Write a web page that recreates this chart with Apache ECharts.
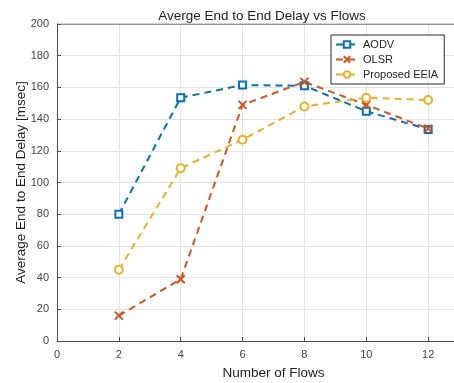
<!DOCTYPE html>
<html><head><meta charset="utf-8">
<script src="https://cdn.jsdelivr.net/npm/echarts@6/dist/echarts.min.js"></script>
<style>html,body{margin:0;padding:0;background:#fff;overflow:hidden;width:454px;height:383px}#c{width:490px;height:383px}</style>
</head><body><div id="c"></div>
<script>
const flows = [2, 4, 6, 8, 10, 12];
const aodv = [80, 153.5, 161.5, 161, 145, 133.5];
const olsr = [16, 39, 149, 163.5, 149, 134];
const eeia = [45, 109, 127, 148, 153.5, 152];
const seriesNames = ['AODV', 'OLSR', 'Proposed EEIA'];
const colors = ['#0072BD', '#D95319', '#EDB120'];

const chart = echarts.init(document.getElementById('c'), null, {renderer: 'canvas'});
const font = 'Helvetica, Arial, "Liberation Sans", sans-serif';
const xPath = 'path://M0,0L10,10M10,0L0,10';
function mk(name, data, color, symbol, size) {
  return {
    name, type: 'line',
    data: flows.map((f, i) => [f, data[i]]),
    symbol, symbolSize: size,
    showAllSymbol: true,
    lineStyle: {color, width: 2, type: [7, 5]},
    itemStyle: {color: symbol === xPath ? color : '#fff', borderColor: color, borderWidth: 2},
    emphasis: {disabled: true},
    z: 3
  };
}
chart.setOption({
  animation: false,
  textStyle: {fontFamily: font},
  title: {
    text: 'Averge End to End Delay vs Flows',
    left: 257, top: 4, textAlign: 'center',
    textStyle: {fontSize: 13.5, fontWeight: 'normal', color: '#222', fontFamily: font}
  },
  legend: {
    orient: 'vertical', left: 331, top: 35,
    data: seriesNames,
    backgroundColor: '#fff', borderColor: '#262626', borderWidth: 1,
    padding: [4, 6, 4, 4], itemGap: 4, itemWidth: 22, itemHeight: 8,
    textStyle: {fontSize: 11, color: '#222', fontFamily: font}
  },
  grid: {left: 57, right: 0, top: 24, bottom: 42, show: false, containLabel: false, outerBoundsMode: 'none'},
  xAxis: {
    type: 'value', min: 0, max: 14, interval: 2,
    name: 'Number of Flows', nameLocation: 'middle', nameGap: 25,
    nameTextStyle: {fontSize: 13.5, color: '#222', fontFamily: font},
    axisLine: {onZero: false, lineStyle: {color: '#4d4d4d', width: 1}},
    axisTick: {inside: true, length: 4, lineStyle: {color: '#4d4d4d'}},
    axisLabel: {fontSize: 11, color: '#444', margin: 8, showMaxLabel: false},
    splitLine: {show: true, lineStyle: {color: '#e3e3e3', width: 1}}
  },
  yAxis: {
    type: 'value', min: 0, max: 200, interval: 20,
    name: 'Average End to End Delay [msec]', nameLocation: 'middle', nameGap: 29,
    nameMoveOverlap: false,
    nameTextStyle: {fontSize: 13.5, color: '#222', fontFamily: font},
    axisLine: {show: true, lineStyle: {color: '#4d4d4d', width: 1}},
    axisTick: {show: true, inside: true, length: 4, lineStyle: {color: '#4d4d4d'}},
    axisLabel: {fontSize: 11, color: '#444', margin: 8},
    splitLine: {show: true, lineStyle: {color: '#e3e3e3', width: 1}}
  },
  series: [
    mk(seriesNames[0], aodv, colors[0], 'rect', 7),
    mk(seriesNames[1], olsr, colors[1], xPath, 8),
    mk(seriesNames[2], eeia, colors[2], 'circle', 8),
    {type: 'line', silent: true, data: [[0, 200], [14, 200]], symbol: 'none',
     lineStyle: {color: '#4d4d4d', width: 1}, z: 1, tooltip: {show: false}}
  ]
});
</script></body></html>
